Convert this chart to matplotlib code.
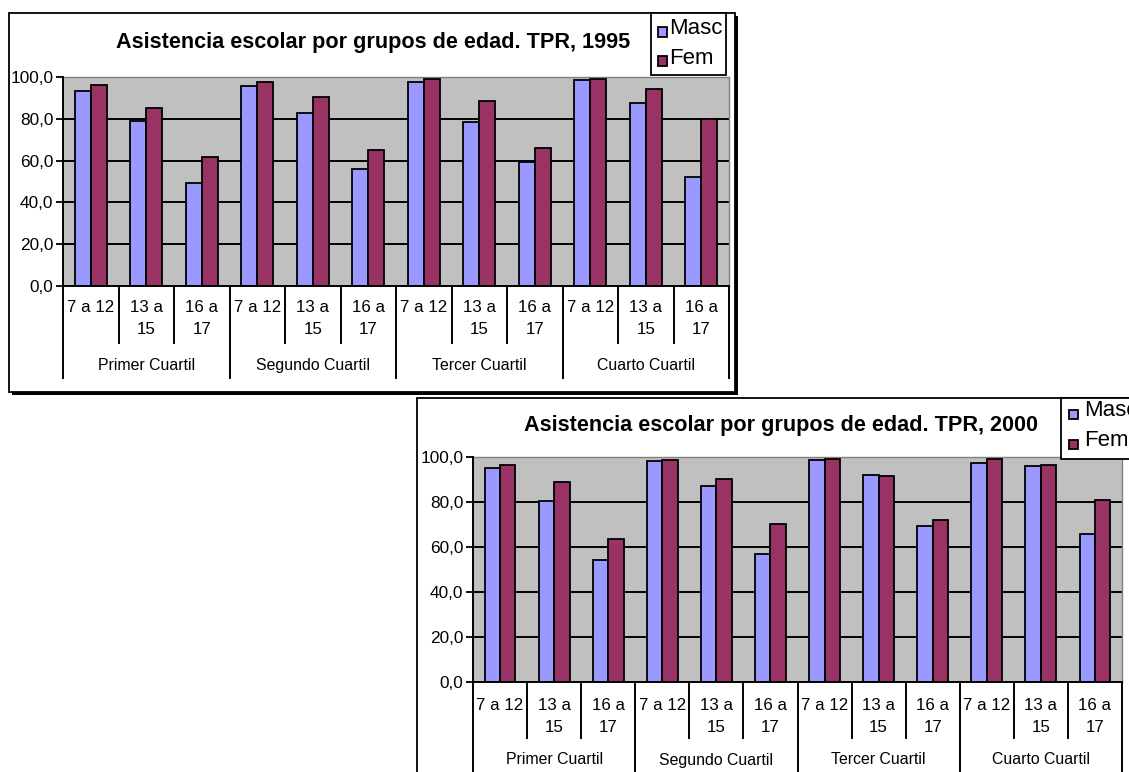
import matplotlib
matplotlib.use("Agg")
import matplotlib.pyplot as plt
from matplotlib import font_manager as fm
from matplotlib.patches import Rectangle
import numpy as np

# ---------------- data ----------------
age_groups = ["7 a 12", "13 a\n15", "16 a\n17"]
quartiles = ["Primer Cuartil", "Segundo Cuartil", "Tercer Cuartil", "Cuarto Cuartil"]
series_names = ["Masc", "Fem"]
y_ticks = [0, 20, 40, 60, 80, 100]

title_1995 = "Asistencia escolar por grupos de edad. TPR, 1995"
masc_1995 = [93.4, 79.1, 49.1, 95.5, 82.9, 56.0, 97.8, 78.6, 59.5, 98.4, 87.7, 52.3]
fem_1995 = [96.0, 85.0, 61.9, 97.6, 90.6, 65.1, 99.0, 88.7, 66.2, 99.0, 94.1, 79.9]

title_2000 = "Asistencia escolar por grupos de edad. TPR, 2000"
masc_2000 = [94.8, 80.4, 54.3, 98.0, 87.0, 56.9, 98.5, 92.1, 69.5, 97.4, 96.0, 65.7]
fem_2000 = [96.1, 88.9, 63.6, 98.6, 90.2, 70.1, 99.2, 91.5, 72.0, 99.2, 96.5, 80.6]

MASC_C = "#9999FF"
FEM_C = "#993366"
GREY = "#C0C0C0"

# ---------------- fonts ----------------
names = {f.name for f in fm.fontManager.ttflist}
if "Liberation Sans Narrow" in names:
    FAM = ["Liberation Sans Narrow", "DejaVu Sans"]
    SCALE = 1.0
else:
    FAM = ["Liberation Sans", "DejaVu Sans"]
    SCALE = 0.82
plt.rcParams["font.family"] = FAM

W, H = 1129, 772
fig = plt.figure(figsize=(W / 100, H / 100), dpi=100)
fig.patch.set_facecolor("white")


def fx(x):
    return x / W


def fy(y):
    return 1 - y / H


def frect(x0, y0, x1, y1, **kw):
    r = Rectangle((fx(x0), fy(y1)), (x1 - x0) / W, (y1 - y0) / H,
                  transform=fig.transFigure, **kw)
    fig.add_artist(r)
    return r


def draw_chart(frame, plot, title, title_xy, legend_box, legend_items,
               masc, fem, rows):
    # frame with shadow
    fx0, fy0, fx1, fy1 = frame
    frect(fx0 + 3, fy0 + 3, fx1 + 3, fy1 + 3, facecolor="black", edgecolor="black", lw=0, zorder=0)
    frect(fx0, fy0, fx1, fy1, facecolor="white", edgecolor="black", lw=1.3, zorder=0.2)

    px0, py0, px1, py1 = plot
    ax = fig.add_axes([fx(px0), fy(py1), (px1 - px0) / W, (py1 - py0) / H])
    ax.set_zorder(1)
    ax.set_facecolor(GREY)
    n = len(masc)
    x = np.arange(n)
    w = 1 / 3.5
    ax.bar(x - w / 2, masc, w, color=MASC_C, edgecolor="black", lw=1.3, zorder=3)
    ax.bar(x + w / 2, fem, w, color=FEM_C, edgecolor="black", lw=1.3, zorder=3)
    ax.set_xlim(-0.5, n - 0.5)
    ax.set_ylim(0, 100)
    ax.set_yticks(y_ticks)
    ax.set_yticklabels([f"{v:.1f}".replace(".", ",") for v in y_ticks],
                       fontsize=15.2 * SCALE)
    ax.set_xticks([])
    ax.yaxis.grid(True, color="black", lw=1.4, zorder=1)
    ax.set_axisbelow(True)
    ax.tick_params(axis="y", direction="out", length=5, width=1.3, pad=2)
    for s in ["top", "right"]:
        ax.spines[s].set_color("#808080")
        ax.spines[s].set_linewidth(1.0)
    for s in ["left", "bottom"]:
        ax.spines[s].set_color("black")
        ax.spines[s].set_linewidth(1.4)
        ax.spines[s].set_zorder(4)

    tr = ax.get_xaxis_transform()
    h = py1 - py0

    def yf(ypx):
        return (py1 - ypx) / h

    row1, row2, inner_end, group_y, group_end = rows
    # separators
    ng = len(age_groups)
    for k in range(n + 1):
        end = group_end if k % ng == 0 else inner_end
        ax.plot([k - 0.5, k - 0.5], [0, yf(end)], transform=tr, color="black",
                lw=1.4, clip_on=False, zorder=5)
    # category labels
    for i in range(n):
        lines = age_groups[i % ng].split("\n")
        for j, ln in enumerate(lines):
            ax.text(i, yf(row1 if j == 0 else row2), ln, transform=tr,
                    ha="center", va="center", fontsize=14.8 * SCALE, clip_on=False)
    for g, q in enumerate(quartiles):
        ax.text(g * ng + (ng - 1) / 2, yf(group_y), q, transform=tr,
                ha="center", va="center", fontsize=14 * SCALE, clip_on=False)

    # title
    fig.text(fx(title_xy[0]), fy(title_xy[1]), title, ha="center", va="baseline",
             fontsize=19 * SCALE, fontweight="bold")

    # legend
    lx0, ly0, lx1, ly1 = legend_box
    frect(lx0, ly0, lx1, ly1, facecolor="white", edgecolor="black", lw=1.3, zorder=6)
    colors = [MASC_C, FEM_C]
    for (sqx, sqy, tx, ty), name, c in zip(legend_items, series_names, colors):
        frect(sqx - 4.5, sqy - 4.5, sqx + 4.5, sqy + 4.5, facecolor=c,
              edgecolor="black", lw=1.3, zorder=7)
        fig.text(fx(tx), fy(ty), name, ha="left", va="center",
                 fontsize=19.5 * SCALE, zorder=8)
    return ax


# chart 1995
draw_chart(frame=(9, 13, 735, 392),
           plot=(63, 77, 729, 286),
           title=title_1995, title_xy=(373, 48),
           legend_box=(651, 13, 726, 75),
           legend_items=[(662, 32, 669, 29), (662, 61, 669, 59)],
           masc=masc_1995, fem=fem_1995,
           rows=(308, 330, 343, 365, 378))

# chart 2000
draw_chart(frame=(417, 398, 1160, 800),
           plot=(473, 456.7, 1122, 682.3),
           title=title_2000, title_xy=(781, 431.5),
           legend_box=(1061, 398, 1140, 459),
           legend_items=[(1073, 414, 1084, 411), (1073, 445, 1084, 441)],
           masc=masc_2000, fem=fem_2000,
           rows=(705, 727, 738, 760, 800))

fig.savefig("out.png", dpi=100, facecolor="white")
